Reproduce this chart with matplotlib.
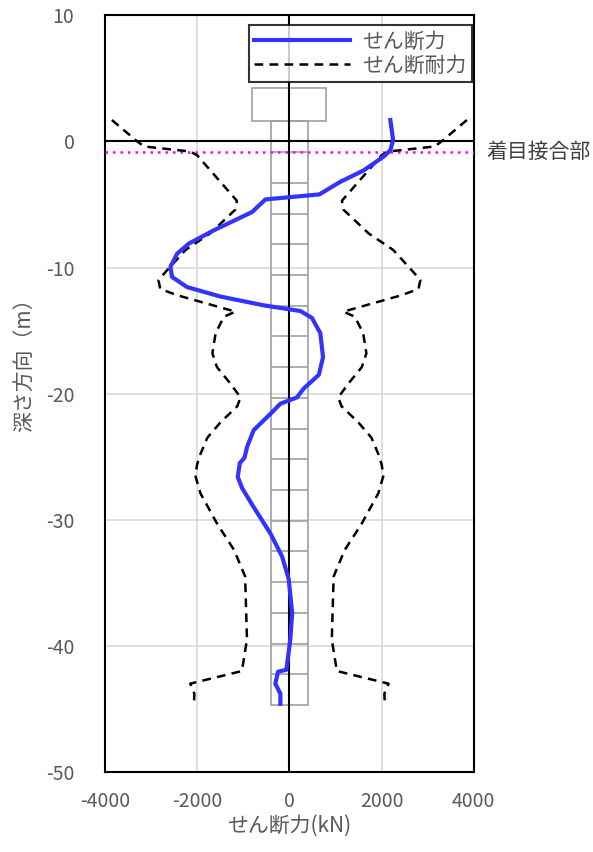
import numpy as np
import matplotlib
matplotlib.use("Agg")
import matplotlib.pyplot as plt
from matplotlib.patches import Rectangle

plt.rcParams["font.family"] = ["Noto Sans CJK JP", "DejaVu Sans"]
plt.rcParams["axes.unicode_minus"] = False

# せん断力 (kN) vs depth (m)
shear_depth = [1.7, 0.1, -0.7, -1.2, -2.3, -3.2, -4.2, -4.6, -5.6, -7.05, -8.1, -8.9,
               -9.95, -10.75, -11.55, -12.3, -13.0, -13.45, -14.0, -15.2, -17.1, -18.5,
               -19.6, -20.3, -20.8, -21.6, -22.9, -24.2, -25.1, -25.5, -26.6, -27.5,
               -29.0, -31.1, -32.9, -34.7, -37.4, -39.5, -41.9, -42.05, -43.0, -43.8, -44.6]
shear_force = [2190, 2250, 2190, 2045, 1610, 1105, 650, -520, -810, -1640, -2180, -2435,
               -2580, -2545, -2220, -1495, -555, 240, 490, 670, 730, 640,
               310, 165, -195, -410, -775, -915, -975, -1075, -1120, -1025,
               -775, -410, -160, -15, 60, 20, -65, -245, -305, -195, -195]

# せん断耐力 (kN), drawn as +/- envelope
cap_depth = [1.7, 0.0, -0.4, -0.8, -1.1, -4.7, -5.4, -7.3, -8.6, -10.2, -11.0, -11.7,
             -12.2, -13.5, -13.9, -15.2, -16.8, -17.9, -19.2, -20.3, -21.0, -22.3,
             -23.5, -24.8, -25.6, -26.5, -27.9, -30.3, -32.4, -34.5, -39.5, -42.0,
             -43.0, -43.8, -44.6]
cap_force = [3850, 3300, 3150, 2150, 2000, 1140, 1170, 1720, 2250, 2650, 2840, 2800,
             2430, 1170, 1420, 1600, 1670, 1570, 1280, 1060, 1130, 1500,
             1780, 1930, 2000, 2040, 1930, 1570, 1200, 960, 920, 1030,
             2150, 2060, 2070]

# pile sketch (drawing units on the kN axis)
pile_half_width = 400
pile_top, pile_bottom = 1.6, -44.7
cap_half_width = 800
cap_top = 4.2
joint_depth = -0.85
n_segments = 18

xticks = [-4000, -2000, 0, 2000, 4000]
yticks = [-50, -40, -30, -20, -10, 0, 10]

gray = "#595959"

fig = plt.figure(figsize=(5.93, 8.52), dpi=100)
ax = fig.add_axes([0.177, 0.094, 0.622, 0.888])

ax.set_xlim(-4000, 4000)
ax.set_ylim(-50, 10)
ax.set_xticks(xticks)
ax.set_yticks(yticks)
ax.grid(True, color="#d9d9d9", linewidth=1.2)
ax.tick_params(length=0, labelsize=14, colors=gray)
ax.tick_params(axis="x", pad=14)
ax.tick_params(axis="y", pad=22)
for s in ax.spines.values():
    s.set_color("black")
    s.set_linewidth(1.5)

# pile and footing outline
pc = "#a0a0a0"
ax.add_patch(Rectangle((-cap_half_width, pile_top), 2 * cap_half_width, cap_top - pile_top,
                       fill=False, edgecolor=pc, linewidth=1.2, zorder=2))
ax.add_patch(Rectangle((-pile_half_width, pile_bottom), 2 * pile_half_width, pile_top - pile_bottom,
                       fill=False, edgecolor=pc, linewidth=1.2, zorder=2))
seg_lines = np.linspace(joint_depth, pile_bottom, n_segments + 1)[:-1]
ax.hlines(seg_lines, -pile_half_width, pile_half_width, colors=pc, linewidth=1.2, zorder=2)

ax.axhline(0, color="black", linewidth=1.5, zorder=2.5)
ax.axvline(0, color="black", linewidth=1.5, zorder=2.5)

ax.axhline(joint_depth, color="#ff00ff", linestyle=(0, (1, 2)), linewidth=1.8, zorder=3)

ax.plot(shear_force, shear_depth, color="#3333ff", linewidth=3, label="せん断力", zorder=5)
ax.plot(cap_force, cap_depth, color="black", linestyle=(0, (3.5, 2.5)), linewidth=1.8,
        label="せん断耐力", zorder=4)
ax.plot([-v for v in cap_force], cap_depth, color="black", linestyle=(0, (3.5, 2.5)),
        linewidth=1.8, zorder=4)

ax.text(1.033, (joint_depth + 50) / 60, "着目接合部", transform=ax.transAxes,
        fontsize=15, color="#404040", va="center", ha="left")

ax.set_xlabel("せん断力(kN)", fontsize=15, color=gray, labelpad=2)
ax.set_ylabel("深さ方向（m）", fontsize=15, color=gray)
ax.yaxis.set_label_coords(-0.19, 0.545)

leg = ax.legend(loc="upper right", bbox_to_anchor=(0.995, 0.987), fontsize=15,
                frameon=True, fancybox=False, borderpad=0.25, handlelength=4.6,
                labelspacing=0.1, handletextpad=0.6, borderaxespad=0)
leg.get_frame().set_edgecolor("black")
leg.get_frame().set_linewidth(1.5)
for t in leg.get_texts():
    t.set_color(gray)

fig.savefig("out.png", dpi=100)
